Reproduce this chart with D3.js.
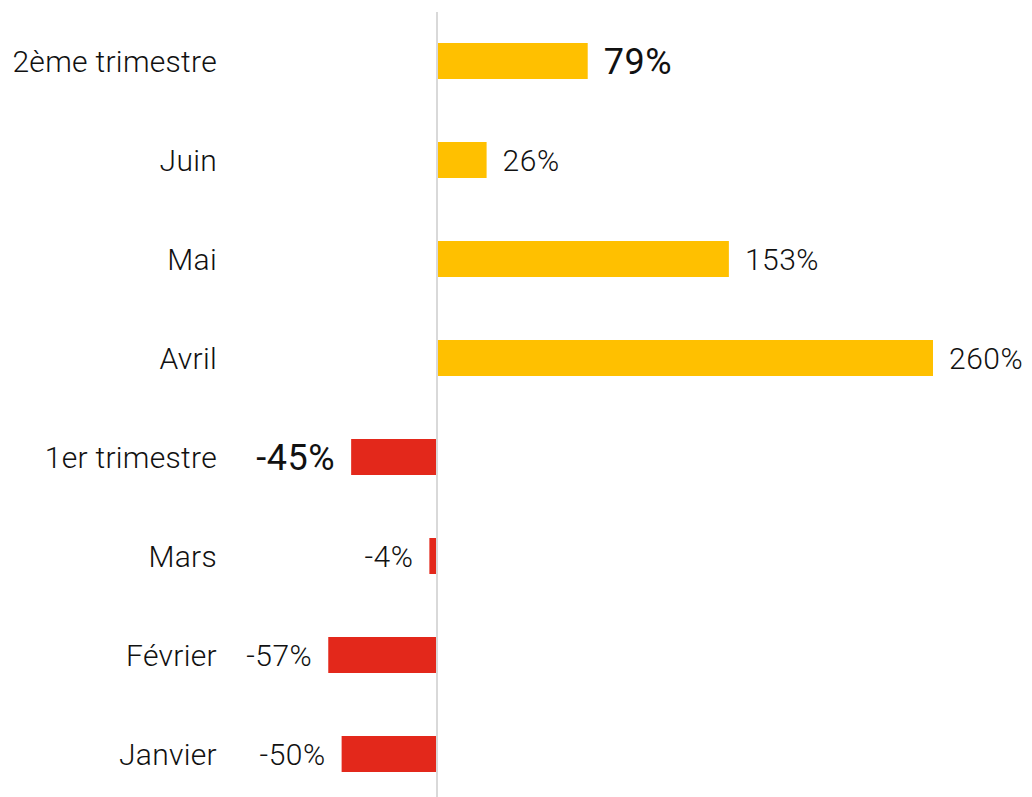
<!DOCTYPE html>
<html>
<head>
<meta charset="utf-8">
<script src="https://cdn.jsdelivr.net/npm/d3@7"></script>
<style>
	body { margin: 0; background: #fff; }
	text { font-family: Roboto, "Noto Sans", sans-serif; fill: #111; }
</style>
</head>
<body>
<div id="chart"></div>
<script>
// chart data, top row first
let categories = ["2ème trimestre", "Juin", "Mai", "Avril", "1er trimestre", "Mars", "Février", "Janvier"];
let values = [79, 26, 153, 260, -45, -4, -57, -50];
let highlighted = ["2ème trimestre", "1er trimestre"];

let width = 1032, height = 797;
let svg = d3.select("#chart")
			.append("svg")
			.attr("width", width)
			.attr("height", height);

//scales
let x = d3.scaleLinear().domain([0, 260]).range([437, 933]);
let y = d3.scalePoint().domain(categories).range([11.5, 803.5]).padding(0.5);
let barH = 36;

let rows = categories.map(function(c, i) { return {cat: c, value: values[i], big: highlighted.indexOf(c) >= 0}; });

//bars
svg.selectAll(".bar")
	.data(rows)
	.enter()
	.append("rect")
	.attr("class", "bar")
	.attr("x", function(d) { return x(Math.min(0, d.value)); })
	.attr("y", function(d) { return y(d.cat) - barH / 2; })
	.attr("width", function(d) { return Math.abs(x(d.value) - x(0)); })
	.attr("height", barH)
	.style("fill", function(d) { return d.value >= 0 ? "#FFC000" : "#E3281B"; });

//zero line
svg.append("line")
	.attr("x1", x(0)).attr("x2", x(0))
	.attr("y1", 12).attr("y2", height)
	.style("stroke", "#d9d9d9")
	.style("stroke-width", 2);

//category labels
svg.selectAll(".cat")
	.data(rows)
	.enter()
	.append("text")
	.attr("class", "cat")
	.attr("x", 217)
	.attr("y", function(d) { return y(d.cat); })
	.attr("dy", "0.35em")
	.attr("text-anchor", "end")
	.style("font-size", "30px")
	.style("font-weight", 300)
	.style("letter-spacing", "0.3px")
	.text(function(d) { return d.cat; });

//value labels
svg.selectAll(".val")
	.data(rows)
	.enter()
	.append("text")
	.attr("class", "val")
	.attr("x", function(d) { return d.value >= 0 ? x(d.value) + 16 : x(d.value) - 16; })
	.attr("y", function(d) { return y(d.cat); })
	.attr("dy", "0.35em")
	.attr("text-anchor", function(d) { return d.value >= 0 ? "start" : "end"; })
	.style("font-size", function(d) { return d.big ? "36px" : "30px"; })
	.style("font-weight", function(d) { return d.big ? 400 : 300; })
	.style("letter-spacing", "0.5px")
	.text(function(d) { return d.value + "%"; });
</script>
</body>
</html>
